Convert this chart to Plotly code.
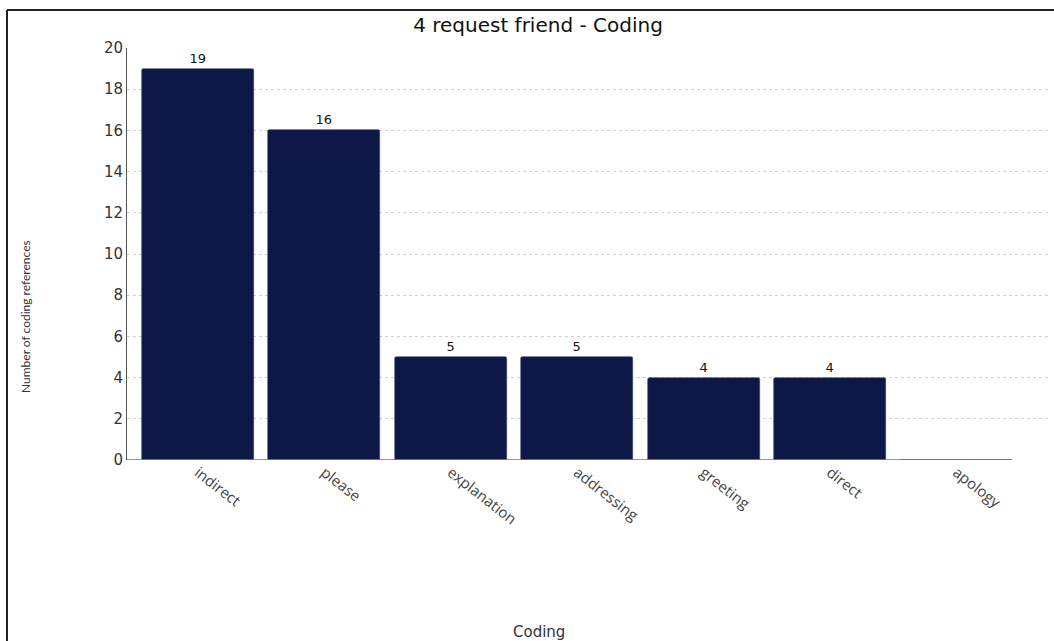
import plotly.graph_objects as go

categories = ["indirect", "please", "explanation", "addressing", "greeting", "direct", "apology"]
counts = [19, 16, 5, 5, 4, 4, 0]
y_ticks = [0, 2, 4, 6, 8, 10, 12, 14, 16, 18, 20]

L, R, T, B = 127, 1048, 48, 460
W, H = 1054, 641
pw, ph = R - L, B - T

def px(x):
    return (x - L) / pw

def py(y):
    return (B - y) / ph

fig = go.Figure()
fig.add_trace(go.Bar(
    x=categories,
    y=counts,
    width=0.886,
    marker=dict(color="#0d1846", line=dict(color="#3a4470", width=0.6), cornerradius=2),
    text=[str(c) if c > 0 else "" for c in counts],
    textposition="outside",
    textfont=dict(family="DejaVu Sans", size=13, color="#111111"),
    cliponaxis=False,
))

fig.update_layout(
    width=W, height=H,
    margin=dict(l=L, r=W - R, t=T, b=H - B),
    paper_bgcolor="white",
    plot_bgcolor="white",
    showlegend=False,
    bargap=0,
    title=dict(text="4 request friend - Coding", x=538 / W, xref="container", xanchor="center",
               y=1 - 25 / H, yref="container", yanchor="middle",
               font=dict(family="DejaVu Sans", size=20, color="#111111")),
    xaxis=dict(
        range=[(L - 198) / 126.4, (R - 198) / 126.4],
        tickangle=38,
        tickfont=dict(family="Open Sans", size=15, color="#444444"),
        showgrid=False, showline=False, ticks="", zeroline=False,
    ),
    yaxis=dict(
        range=[0, 20],
        tickvals=y_ticks,
        tickfont=dict(family="DejaVu Sans", size=15, color="#333333"),
        showgrid=True, gridcolor="#d0d0d0", griddash="dot", gridwidth=1,
        showline=True, linecolor="#555555", linewidth=1,
        zeroline=False, ticks="", ticklen=0,
    ),
    annotations=[
        dict(text="Coding", xref="paper", yref="paper", x=px(539), y=py(632),
             showarrow=False, xanchor="center", yanchor="middle",
             font=dict(family="DejaVu Sans", size=15, color="#333333")),
        dict(text="Number of coding references", xref="paper", yref="paper", x=px(25), y=py(317),
             showarrow=False, textangle=-90, xanchor="center", yanchor="middle",
             font=dict(family="Lato", size=12, color="#333333")),
    ],
    shapes=[
        dict(type="line", xref="paper", yref="paper", x0=px(7), x1=px(1060), y0=py(10), y1=py(10),
             line=dict(color="#222222", width=2)),
        dict(type="line", xref="paper", yref="paper", x0=px(7), x1=px(7), y0=py(10), y1=py(650),
             line=dict(color="#222222", width=2)),
        dict(type="line", xref="paper", yref="y", x0=0, x1=px(1012), y0=0, y1=0,
             line=dict(color="#777777", width=1.5)),
    ],
)

fig.write_html("out.html")
